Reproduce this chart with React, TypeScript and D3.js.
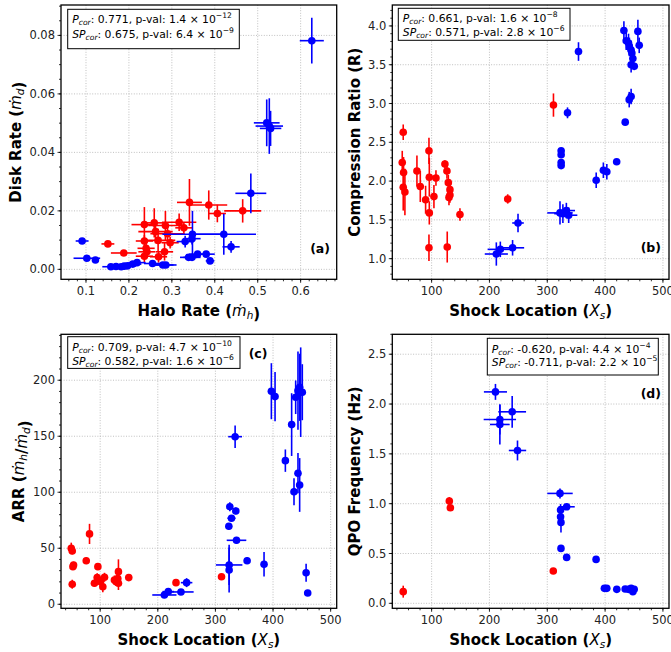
import React from 'react';
import * as d3 from 'd3';

type P = [number, number, number, number]; // x, y, xerr, yerr

// ---------- Panel (a): Halo rate vs Disk rate ----------
const aRed: P[] = [
  [0.341, 0.0229, 0.029, 0.008], [0.386, 0.022, 0.043, 0.005], [0.406, 0.0191, 0.02, 0.003],
  [0.465, 0.02, 0.043, 0.004], [0.317, 0.0161, 0.04, 0.003], [0.328, 0.0142, 0.02, 0.002],
  [0.236, 0.0153, 0.03, 0.006], [0.259, 0.0159, 0.03, 0.005], [0.285, 0.015, 0.04, 0.005],
  [0.262, 0.0129, 0.04, 0.004], [0.29, 0.0122, 0.04, 0.003], [0.268, 0.0099, 0.04, 0.004],
  [0.236, 0.0097, 0.02, 0.002], [0.296, 0.0091, 0.02, 0.002], [0.24, 0.0072, 0.02, 0.003],
  [0.242, 0.006, 0.02, 0.002], [0.283, 0.006, 0.02, 0.003], [0.236, 0.0045, 0.02, 0.002],
  [0.269, 0.0043, 0.02, 0.002], [0.151, 0.0087, 0.015, 0.001], [0.188, 0.0056, 0.03, 0.001],
];
const aBlue: P[] = [
  [0.626, 0.0782, 0.028, 0.0078], [0.521, 0.0501, 0.03, 0.008], [0.527, 0.049, 0.032, 0.0095],
  [0.53, 0.0482, 0.025, 0.006], [0.484, 0.026, 0.036, 0.0068], [0.421, 0.012, 0.075, 0.007],
  [0.348, 0.012, 0.07, 0.008], [0.347, 0.0105, 0.02, 0.002], [0.331, 0.0095, 0.02, 0.002],
  [0.438, 0.0077, 0.02, 0.002], [0.091, 0.0097, 0.015, 0.0005], [0.102, 0.0038, 0.031, 0.0005],
  [0.122, 0.0032, 0.005, 0.0005], [0.158, 0.0009, 0.02, 0.0005], [0.17, 0.001, 0.02, 0.0005],
  [0.182, 0.0009, 0.02, 0.0005], [0.189, 0.0011, 0.02, 0.0005], [0.197, 0.0012, 0.02, 0.0005],
  [0.209, 0.0018, 0.02, 0.0005], [0.219, 0.0023, 0.02, 0.0005], [0.255, 0.002, 0.02, 0.0005],
  [0.279, 0.0015, 0.025, 0.0005], [0.286, 0.0015, 0.025, 0.0005], [0.339, 0.0041, 0.02, 0.0005],
  [0.347, 0.0041, 0.02, 0.0005], [0.36, 0.0052, 0.02, 0.0005], [0.38, 0.0052, 0.02, 0.0005],
  [0.389, 0.0029, 0.01, 0.0005],
];

// ---------- Panel (b): Shock location vs Compression ratio ----------
const bRed: P[] = [
  [50.9, 2.63, 2, 0.1], [49.2, 2.24, 2, 0.15], [51.5, 2.11, 2, 0.2], [50.9, 1.92, 2, 0.3],
  [53.8, 1.86, 2, 0.3], [74.6, 2.13, 2, 0.2], [80.4, 1.93, 2, 0.2], [89.6, 1.76, 2, 0.18],
  [95.4, 2.39, 2, 0.17], [96, 2.05, 2, 0.25], [96, 1.59, 2, 0.15], [95.4, 1.14, 2, 0.17],
  [104, 1.8, 2, 0.15], [107.5, 2.04, 2, 0.1], [123, 2.22, 2, 0.05], [126.5, 2.13, 2, 0.1],
  [128.9, 1.98, 2, 0.1], [131.7, 1.89, 2, 0.1], [131.7, 1.82, 2, 0.1], [130, 1.79, 2, 0.1],
  [127, 1.15, 2, 0.2], [149, 1.57, 2, 0.08], [231.6, 1.77, 2, 0.06], [310.7, 2.98, 2, 0.15],
];
const bBlue: P[] = [
  [211.9, 1.06, 20, 0.15], [218.8, 1.12, 22, 0.1], [240, 1.14, 20, 0.1], [249.4, 1.46, 10, 0.12],
  [322, 1.59, 22, 0.15], [327, 1.58, 15, 0.12], [333, 1.62, 15, 0.1], [337, 1.56, 15, 0.1],
  [324, 2.39, 2, 0.03], [324, 2.34, 2, 0.03], [324, 2.24, 2, 0.03], [324, 2.2, 2, 0.03],
  [335, 2.88, 2, 0.07], [354, 3.67, 2, 0.12], [384.6, 2.01, 2, 0.1], [397, 2.14, 2, 0.1],
  [403, 2.12, 2, 0.1], [420, 2.25, 2, 0.03], [434.8, 2.76, 2, 0.03], [441.7, 3.05, 2, 0.1],
  [445, 3.09, 2, 0.1], [432.5, 3.94, 2, 0.12], [436.5, 3.81, 2, 0.12], [440.5, 3.78, 2, 0.12],
  [442, 3.73, 2, 0.12], [445, 3.69, 2, 0.12], [446.3, 3.65, 2, 0.12], [448, 3.58, 2, 0.1],
  [445, 3.5, 2, 0.1], [450.4, 3.48, 2, 0.05], [456.7, 3.93, 2, 0.15], [459, 3.75, 2, 0.1],
];

// ---------- Panel (c): Shock location vs ARR ----------
const cRed: P[] = [
  [49.8, 50, 2, 5], [51.5, 47.6, 2, 3], [52.7, 33.6, 2, 3], [53.8, 35, 2, 3], [51.5, 17.9, 2, 4],
  [75.8, 38.9, 2, 3], [81.5, 62.8, 2, 9], [96, 33.6, 2, 3], [94.8, 23.8, 2, 4], [90, 18.8, 2, 3],
  [100.6, 20.2, 2, 4], [104.6, 15.7, 2, 5], [107.5, 24.1, 2, 4], [124.7, 21.7, 2, 4],
  [130.6, 22.9, 2, 4], [131.7, 29.1, 2, 11], [131.7, 18.75, 2, 6], [127.7, 20.2, 2, 4],
  [149.6, 23.8, 2, 3], [231.6, 19.3, 2, 2], [310.6, 24.6, 2, 2],
];
const cBlue: P[] = [
  [211.4, 8.3, 21, 2], [218.2, 11.3, 10, 2], [240.2, 11, 22, 2], [250, 19.3, 10, 4],
  [323.8, 35.1, 23, 18], [323.8, 30.6, 2, 20], [336.6, 57.1, 17, 3], [323.3, 69.6, 2, 3],
  [327.9, 76.8, 7, 2], [325, 87.1, 2, 4], [335.4, 83.3, 2, 3], [334.2, 149.6, 12, 10],
  [355, 38.9, 2, 3], [384.4, 35.7, 2, 11], [397.1, 190.2, 2, 25], [403.5, 185.4, 2, 22],
  [421.4, 128.2, 2, 10], [432.3, 160.4, 2, 28], [436.4, 100.5, 2, 12], [443.3, 117, 2, 18],
  [446.2, 106.5, 2, 24], [439.3, 184.8, 2, 15], [443.3, 190.7, 2, 35], [446.2, 193.7, 2, 30],
  [448, 189.3, 2, 40], [450.8, 189.3, 2, 25], [457.4, 28.2, 2, 8], [460.2, 10.1, 2, 2],
];

// ---------- Panel (d): Shock location vs QPO frequency ----------
const dRed: P[] = [
  [50.9, 0.117, 2, 0.06], [130.6, 1.026, 2, 0.04], [132.4, 0.959, 2, 0.02], [310.4, 0.324, 2, 0.01],
];
const dBlue: P[] = [
  [210.4, 2.122, 20, 0.08], [218, 1.845, 28, 0.15], [218, 1.795, 17, 0.2], [239.3, 1.922, 24, 0.16],
  [248.5, 1.534, 15, 0.1], [322, 1.103, 22, 0.05], [333.5, 0.969, 14, 0.03], [323, 0.936, 2, 0.06],
  [323, 0.869, 2, 0.05], [323.7, 0.812, 2, 0.1], [323.7, 0.551, 2, 0.02], [333.5, 0.461, 2, 0.01],
  [384.4, 0.441, 2, 0.01], [398.8, 0.15, 2, 0.01], [402.9, 0.15, 2, 0.01], [420.2, 0.14, 2, 0.01],
  [434.7, 0.144, 2, 0.01], [440.4, 0.14, 2, 0.01], [445, 0.15, 2, 0.01], [448, 0.117, 2, 0.01],
  [450.3, 0.14, 2, 0.01],
];

// ---------- Tick labels ----------
const aXTicks = ['0.1', '0.2', '0.3', '0.4', '0.5', '0.6'];
const aYTicks = ['0.00', '0.02', '0.04', '0.06', '0.08'];
const shockTicks = ['100', '200', '300', '400', '500'];
const bYTicks = ['1.0', '1.5', '2.0', '2.5', '3.0', '3.5', '4.0'];
const cYTicks = ['0', '50', '100', '150', '200'];
const dYTicks = ['0.0', '0.5', '1.0', '1.5', '2.0', '2.5'];

// ---------- Correlation annotations ----------
const aStats = ['0.771', '1.4', '−12', '0.675', '6.4', '−9'];
const bStats = ['0.661', '1.6', '−8', '0.571', '2.8', '−6'];
const cStats = ['0.709', '4.7', '−10', '0.582', '1.6', '−6'];
const dStats = ['-0.620', '4.4', '−4', '-0.711', '2.2', '−5'];

const FONT = "'DejaVu Sans', sans-serif";
const RED = '#ff0000';
const BLUE = '#0000ff';

type Spec = {
  left: number; right: number; top: number; bottom: number;
  xDom: [number, number]; yDom: [number, number];
  xTicks: string[]; yTicks: string[]; xMinor: number; yMinor: number;
  red: P[]; blue: P[];
  xLabel: React.ReactNode; yLabel: React.ReactNode; yLabelX: number;
  tag: string; tagX: number; tagY: number;
  stats: string[]; box: [number, number, number, number]; line1: number; line2: number;
};

function Panel({ s }: { s: Spec }) {
  const x = d3.scaleLinear().domain(s.xDom).range([s.left, s.right]);
  const y = d3.scaleLinear().domain(s.yDom).range([s.bottom, s.top]);
  const xMaj = s.xTicks.map(Number);
  const yMaj = s.yTicks.map(Number);
  const inX = (v: number) => v >= s.xDom[0] - 1e-9 && v <= s.xDom[1] + 1e-9;
  const inY = (v: number) => v >= s.yDom[0] - 1e-9 && v <= s.yDom[1] + 1e-9;
  const xMin = d3.range(Math.ceil(s.xDom[0] / s.xMinor), Math.floor(s.xDom[1] / s.xMinor) + 1).map(i => i * s.xMinor).filter(inX);
  const yMin = d3.range(Math.ceil(s.yDom[0] / s.yMinor), Math.floor(s.yDom[1] / s.yMinor) + 1).map(i => i * s.yMinor).filter(inY);
  const series = (data: P[], color: string) => (
    <g>
      {data.map((p, i) => (
        <g key={'e' + i} stroke={color} strokeWidth={1.6}>
          <line x1={x(p[0] - p[2])} x2={x(p[0] + p[2])} y1={y(p[1])} y2={y(p[1])} />
          <line x1={x(p[0])} x2={x(p[0])} y1={y(p[1] - p[3])} y2={y(p[1] + p[3])} />
        </g>
      ))}
      {data.map((p, i) => (
        <circle key={'c' + i} cx={x(p[0])} cy={y(p[1])} r={3.8} fill={color} />
      ))}
    </g>
  );
  const [bx, by, bw, bh] = s.box;
  const st = s.stats;
  const tx = bx + 4.5;
  return (
    <g fontFamily={FONT}>
      {/* grid */}
      <g stroke="#b0b0b0" strokeWidth={0.8} strokeDasharray="1,1.6">
        {xMaj.filter(inX).map((v, i) => (
          <line key={'gx' + i} x1={x(v)} x2={x(v)} y1={s.top} y2={s.bottom} />
        ))}
        {yMaj.filter(inY).map((v, i) => (
          <line key={'gy' + i} x1={s.left} x2={s.right} y1={y(v)} y2={y(v)} />
        ))}
      </g>
      {series(s.red, RED)}
      {series(s.blue, BLUE)}
      {/* frame */}
      <rect x={s.left} y={s.top} width={s.right - s.left} height={s.bottom - s.top} fill="none" stroke="#000" strokeWidth={1.3} />
      {/* ticks */}
      <g stroke="#000" strokeWidth={0.8}>
        {xMin.map((v, i) => <line key={'mx' + i} x1={x(v)} x2={x(v)} y1={s.bottom} y2={s.bottom + 2} />)}
        {yMin.map((v, i) => <line key={'my' + i} x1={s.left} x2={s.left - 2} y1={y(v)} y2={y(v)} />)}
        {xMaj.filter(inX).map((v, i) => <line key={'Mx' + i} x1={x(v)} x2={x(v)} y1={s.bottom} y2={s.bottom + 3.5} />)}
        {yMaj.filter(inY).map((v, i) => <line key={'My' + i} x1={s.left} x2={s.left - 3.5} y1={y(v)} y2={y(v)} />)}
      </g>
      <g fontSize={11.5} fill="#222">
        {s.xTicks.map((t, i) => inX(xMaj[i]) ? (
          <text key={'tx' + i} x={x(xMaj[i])} y={s.bottom + 16} textAnchor="middle">{t}</text>
        ) : null)}
        {s.yTicks.map((t, i) => inY(yMaj[i]) ? (
          <text key={'ty' + i} x={s.left - 6} y={y(yMaj[i]) + 4} textAnchor="end">{t}</text>
        ) : null)}
      </g>
      {/* axis labels */}
      <text x={(s.left + s.right) / 2} y={s.bottom + 36.5} textAnchor="middle" fontSize={15} fontWeight="bold" fill="#000">{s.xLabel}</text>
      <text transform={`translate(${s.yLabelX},${(s.top + s.bottom) / 2}) rotate(-90)`} textAnchor="middle" fontSize={15} fontWeight="bold" fill="#000">{s.yLabel}</text>
      {/* panel tag */}
      <text x={s.tagX} y={s.tagY} textAnchor="end" fontSize={12.5} fontWeight="bold" fill="#000">{s.tag}</text>
      {/* stats box */}
      <rect x={bx} y={by} width={bw} height={bh} fill="#fff" stroke="#000" strokeWidth={1} />
      <text x={tx} y={s.line1} fontSize={10.8} fill="#000">
        <tspan fontStyle="italic">P</tspan>
        <tspan fontStyle="italic" fontSize={7.6} dy={2.2}>cor</tspan>
        <tspan dy={-2.2}>{`: ${st[0]}, p-val: ${st[1]} × 10`}</tspan>
        <tspan fontSize={7.6} dy={-4.6}>{st[2]}</tspan>
      </text>
      <text x={tx} y={s.line2} fontSize={10.8} fill="#000">
        <tspan fontStyle="italic">SP</tspan>
        <tspan fontStyle="italic" fontSize={7.6} dy={2.2}>cor</tspan>
        <tspan dy={-2.2}>{`: ${st[3]}, p-val: ${st[4]} × 10`}</tspan>
        <tspan fontSize={7.6} dy={-4.6}>{st[5]}</tspan>
      </text>
    </g>
  );
}

const mdot = (sub: string) => (
  <>
    <tspan fontStyle="italic" fontWeight="normal">ṁ</tspan>
    <tspan fontStyle="italic" fontWeight="normal" fontSize={10.5} dy={3}>{sub}</tspan>
    <tspan dy={-3}></tspan>
  </>
);

const shockLabel = (
  <>
    Shock Location (<tspan fontStyle="italic" fontWeight="normal">X</tspan>
    <tspan fontStyle="italic" fontWeight="normal" fontSize={10.5} dy={3}>s</tspan>
    <tspan dy={-3}>)</tspan>
  </>
);

const SX: [number, number] = [32, 510.5];

const specs: Spec[] = [
  {
    left: 61, right: 336.7, top: 5, bottom: 279.3,
    xDom: [0.0418, 0.684], yDom: [-0.0034, 0.0904],
    xTicks: aXTicks, yTicks: aYTicks, xMinor: 0.02, yMinor: 0.005,
    red: aRed, blue: aBlue,
    xLabel: <>Halo Rate ({mdot('h')})</>,
    yLabel: <>Disk Rate ({mdot('d')})</>, yLabelX: 21,
    tag: '(a)', tagX: 330, tagY: 253,
    stats: aStats, box: [67.7, 9.3, 171.6, 39.4], line1: 23, line2: 37.5,
  },
  {
    left: 392.3, right: 669, top: 5, bottom: 279.3,
    xDom: SX, yDom: [0.734, 4.27],
    xTicks: shockTicks, yTicks: bYTicks, xMinor: 20, yMinor: 0.1,
    red: bRed, blue: bBlue,
    xLabel: shockLabel, yLabel: <>Compression Ratio (R)</>, yLabelX: 360,
    tag: '(b)', tagX: 661, tagY: 252,
    stats: bStats, box: [398.3, 8.3, 171.7, 32], line1: 21.5, line2: 35.5,
  },
  {
    left: 61, right: 336.7, top: 334.3, bottom: 608.3,
    xDom: SX, yDom: [-3.6, 241],
    xTicks: shockTicks, yTicks: cYTicks, xMinor: 20, yMinor: 10,
    red: cRed, blue: cBlue,
    xLabel: shockLabel,
    yLabel: <>ARR ({mdot('h')}/{mdot('d')})</>, yLabelX: 24,
    tag: '(c)', tagX: 267.5, tagY: 357.8,
    stats: cStats, box: [67.7, 336.7, 172.3, 31.7], line1: 350.5, line2: 364.5,
  },
  {
    left: 392.3, right: 669, top: 334.3, bottom: 608.3,
    xDom: SX, yDom: [-0.05, 2.7],
    xTicks: shockTicks, yTicks: dYTicks, xMinor: 20, yMinor: 0.1,
    red: dRed, blue: dBlue,
    xLabel: shockLabel, yLabel: <>QPO Frequency (Hz)</>, yLabelX: 360,
    tag: '(d)', tagX: 661, tagY: 397.8,
    stats: dStats, box: [487.3, 338.3, 171, 36.7], line1: 352.5, line2: 366,
  },
];

export default function App() {
  return (
    <svg width={671} height={652} style={{ position: 'absolute', left: 0, top: 0, background: '#fff' }}>
      <rect width={671} height={652} fill="#fff" />
      {specs.map((s, i) => <Panel key={i} s={s} />)}
    </svg>
  );
}
